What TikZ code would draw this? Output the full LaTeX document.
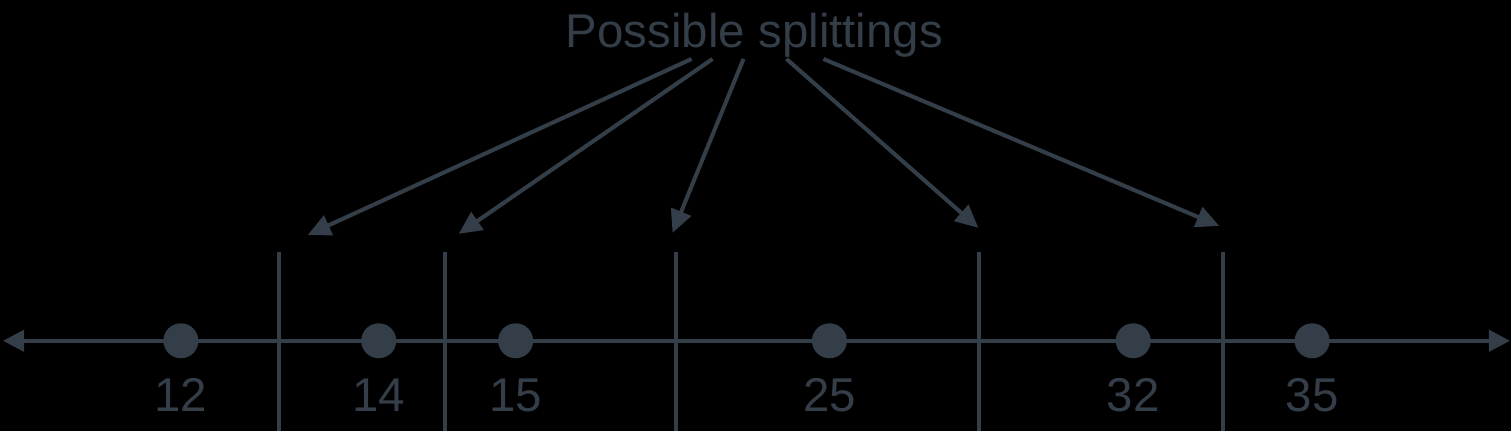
\documentclass[tikz,border=0pt]{standalone}
\usepackage{fontspec}
\setmainfont{Liberation Sans}
\usetikzlibrary{arrows.meta}
\definecolor{slate}{RGB}{52,62,72}
\tikzstyle{arrow} = [slate,line width=1.15pt,-{Triangle[length=6.5pt,width=6pt]}]
\tikzstyle{axis} = [slate,line width=1.15pt,{Triangle[length=6pt,width=6pt]}-{Triangle[length=6pt,width=6pt]}]
\tikzstyle{split} = [slate,line width=1.15pt]
\tikzstyle{dot} = [circle,fill=slate,inner sep=0pt,minimum size=0.35cm]
\tikzstyle{lbl} = [text=slate,font=\fontsize{13.5}{16}\selectfont,anchor=base,inner sep=0pt]

\begin{document}
\begin{tikzpicture}[x=0.01cm,y=-0.01cm]
    \fill[black] (0,0) rectangle (1512,431);
    \node[lbl] (title) at (755,48) {Possible splittings};
    % number line
    \coordinate (left) at (3,341);
    \coordinate (right) at (1511,341);
    \draw[axis] (left) -- (right);
    \foreach \x/\v in {181/12,379/14,516/15,830/25,1134/32,1313/35} {
        \node[dot] (d\v) at (\x,341) {};
        \node[lbl] (n\v) at (\x,412) {\v};
    }
    % splitting lines and arrows
    \foreach \i/\x/\sx/\tx/\ty in {1/279/692/308/235,2/445/713/459/234,3/676/744/673/233,4/980/787/979/228,5/1224/824/1220/226} {
        \coordinate (top\i) at (\x,252);
        \coordinate (bot\i) at (\x,431);
        \draw[split] (top\i) -- (bot\i);
        \coordinate (s\i) at (\sx,59);
        \coordinate (t\i) at (\tx,\ty);
        \draw[arrow] (s\i) -- (t\i);
    }
\end{tikzpicture}
\end{document}
